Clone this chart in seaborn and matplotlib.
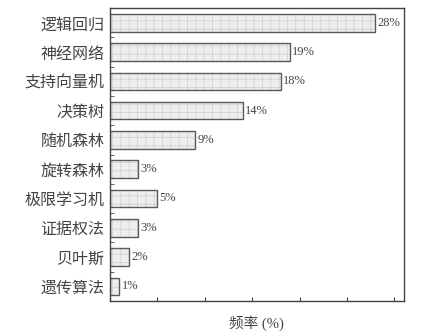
import matplotlib
matplotlib.use("Agg")
import matplotlib.pyplot as plt
import numpy as np
import pandas as pd
import seaborn as sns

methods = ["逻辑回归", "神经网络", "支持向量机", "决策树", "随机森林",
           "旋转森林", "极限学习机", "证据权法", "贝叶斯", "遗传算法"]
freq = [28, 19, 18, 14, 9, 3, 5, 3, 2, 1]
x_ticks = [0, 5, 10, 15, 20, 25, 30]

df = pd.DataFrame({"method": methods, "freq": freq})

sns.set_style("ticks")
plt.rcParams["font.family"] = ["Noto Sans CJK SC", "DejaVu Sans"]
plt.rcParams["hatch.linewidth"] = 0.5

fig = plt.figure(figsize=(4.27, 3.34), dpi=100)
ax = fig.add_axes([0.2576, 0.0988, 0.688, 0.877])

# hatched fill
sns.barplot(data=df, x="freq", y="method", orient="h", color="#ededed",
            edgecolor="#cdcdcd", linewidth=0, hatch="++", width=0.6,
            saturation=1, ax=ax)
# outline
sns.barplot(data=df, x="freq", y="method", orient="h", fill=False,
            color="#5a5a5a", linewidth=1.0, width=0.6, ax=ax)

for v, y in zip(freq, range(len(methods))):
    ax.text(v + 0.25, y, f"{v}%", va="center", ha="left", fontsize=9,
            color="#444444", family=["Liberation Serif", "DejaVu Serif"])

ax.set_xlim(0, 31)
ax.set_xticks(x_ticks)
ax.set_xticklabels([])
ax.tick_params(axis="x", direction="in", length=3, color="#444444")
ax.tick_params(axis="y", which="major", length=0, pad=4, labelsize=11.5,
               labelcolor="#444444")
ax.set_yticks(np.arange(0.5, 9.5, 1), minor=True)
ax.tick_params(axis="y", which="minor", direction="in", length=3, color="#444444")

for s in ax.spines.values():
    s.set_color("#444444")
    s.set_linewidth(1.0)

ax.set_ylabel("")
ax.set_xlabel("频率 (%)", fontsize=10.5, color="#444444", labelpad=7,
              family=["Liberation Serif", "Noto Sans CJK SC"])

fig.savefig("out.png", dpi=100)
